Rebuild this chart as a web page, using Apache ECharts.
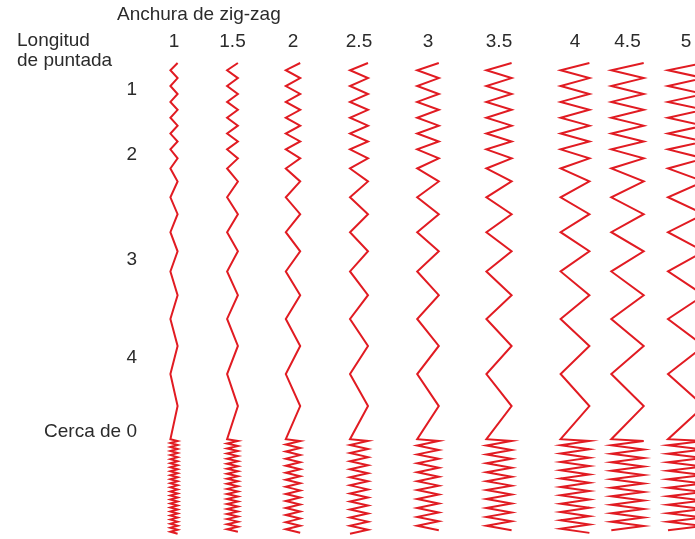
<!DOCTYPE html>
<html>
<head>
<meta charset="utf-8">
<style>html,body{margin:0;padding:0;background:#fff}#c{width:695px;height:539px}</style>
<script src="https://cdn.jsdelivr.net/npm/echarts@6/dist/echarts.min.js"></script>
</head>
<body>
<div id="c"></div>
<script>
// ---- data ----
const widths = [1, 1.5, 2, 2.5, 3, 3.5, 4, 4.5, 5];               // zig-zag width (mm)
const widthLabels = ['1', '1.5', '2', '2.5', '3', '3.5', '4', '4.5', '5'];
// successive stitch lengths (mm) while the stitch-length dial is turned from 1 towards 4
const stitchLengths = [1.0, 1.1, 1.1, 1.1, 1.1, 1.1, 1.1, 1.1, 1.1, 1.1, 1.1, 1.25, 1.4, 1.8, 2.2, 2.35, 2.5, 2.65, 2.8, 3.3, 3.3, 3.75, 3.9, 4.45, 4.6];
// feed per stitch (mm) in the "near 0" satin block, per width
const nearZeroFeed = [0.28, 0.35, 0.49, 0.56, 0.62, 0.62, 0.58, 0.59, 0.59];
const lengthLabels = ['1', '2', '3', '4', 'Cerca de 0'];

// ---- layout (page scale, px per mm) ----
const PX = 7.2;
const columnCenters = [174, 232.5, 293, 359, 428, 499, 575, 627.5, 686].map(p => p / PX);
const lengthLabelPos = [90, 155, 260, 358, 432].map(p => p / PX);
const startY = 63 / PX, endY = 534 / PX;

function buildColumn(i) {
  const c = columnCenters[i], h = widths[i] / 2;
  const pts = [];
  let y = startY, side = 1;
  pts.push([c + side * h, y]);
  for (const L of stitchLengths) { y += L; side = -side; pts.push([c + side * h, y]); }
  // satin block at near-zero stitch length
  y += 0.25; side = -side; pts.push([c + side * h, y]);
  const f = nearZeroFeed[i];
  while (y + f <= endY) { y += f; side = -side; pts.push([c + side * h, y]); }
  return pts;
}

const font = { fontFamily: 'Liberation Sans, Arial, sans-serif', fontSize: 19, color: '#2b2b2b' };
const chart = echarts.init(document.getElementById('c'), null, { renderer: 'canvas' });
chart.setOption({
  animation: false,
  backgroundColor: '#fff',
  title: [
    { text: 'Anchura de zig-zag', left: 112, top: 0, textStyle: Object.assign({ fontWeight: 'normal', lineHeight: 20 }, font) },
    { text: 'Longitud\nde puntada', left: 12, top: 26, textStyle: Object.assign({ fontWeight: 'normal', lineHeight: 20 }, font) }
  ],
  grid: { left: 145, right: 0, top: 58, bottom: 0, containLabel: false },
  xAxis: {
    type: 'value', position: 'top', min: 145 / PX, max: 695 / PX,
    axisLine: { show: false }, axisTick: { show: false }, splitLine: { show: false },
    axisLabel: Object.assign({
      customValues: columnCenters, margin: 6, lineHeight: 20,
      formatter: v => { let k = 0, d = 1e9; columnCenters.forEach((c, j) => { if (Math.abs(c - v) < d) { d = Math.abs(c - v); k = j; } }); return widthLabels[k]; }
    }, font)
  },
  yAxis: {
    type: 'value', inverse: true, min: 58 / PX, max: 539 / PX,
    axisLine: { show: false }, axisTick: { show: false }, splitLine: { show: false },
    axisLabel: Object.assign({
      customValues: lengthLabelPos, margin: 8,
      formatter: v => { let k = 0, d = 1e9; lengthLabelPos.forEach((c, j) => { if (Math.abs(c - v) < d) { d = Math.abs(c - v); k = j; } }); return lengthLabels[k]; }
    }, font)
  },
  series: widths.map((w, i) => ({
    type: 'line', name: widthLabels[i], data: buildColumn(i), symbol: 'none',
    lineStyle: { color: '#e11b22', width: 2, join: 'miter' }, clip: true
  }))
});
</script>
</body>
</html>
